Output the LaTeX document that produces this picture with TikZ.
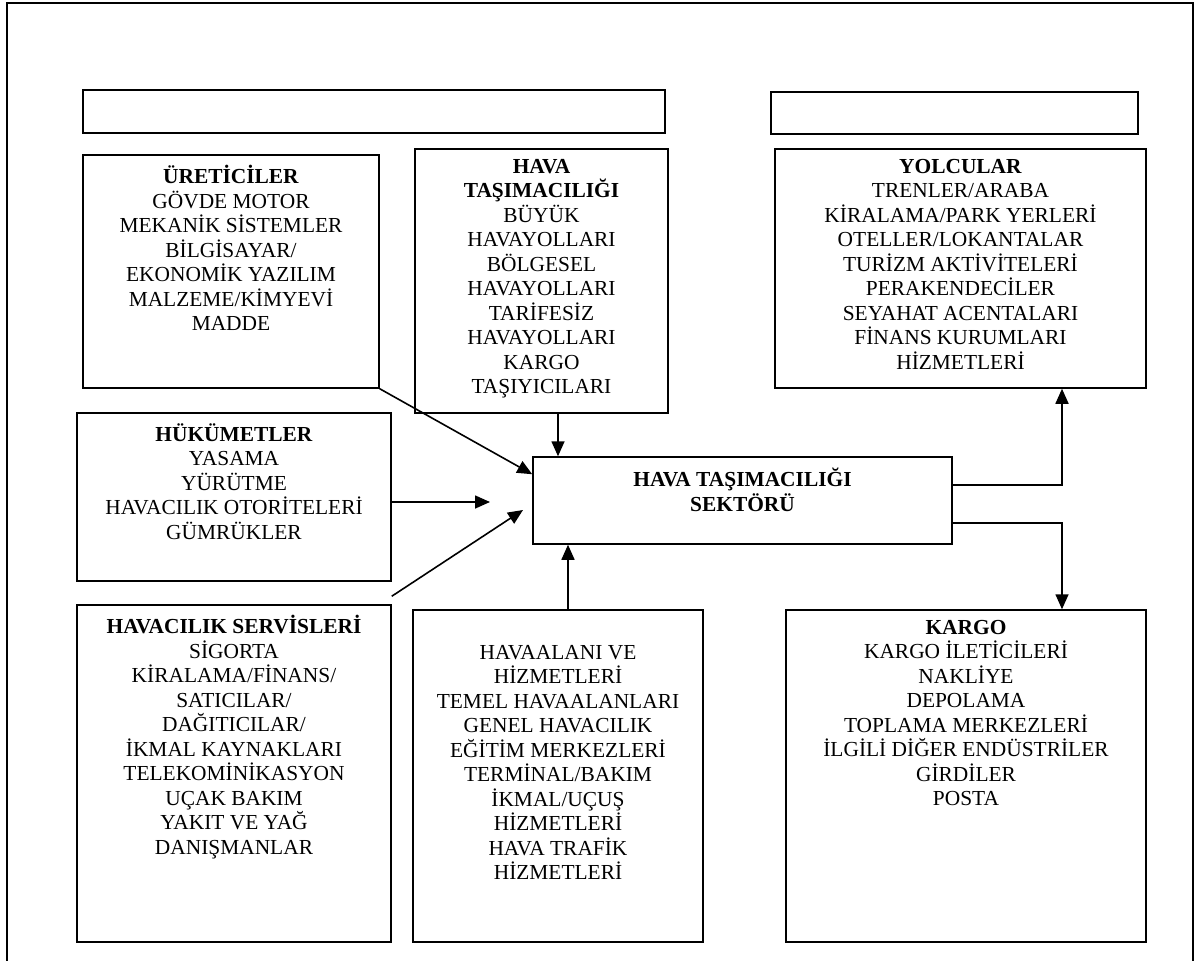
\documentclass[tikz,border=0pt]{standalone}
\usepackage{fontspec}
\setmainfont{Liberation Serif}
\usetikzlibrary{arrows.meta}
\usetikzlibrary{positioning}
\tikzset{>={Triangle[length=15pt,width=13pt]}}
\tikzset{
  kutu/.style={draw, line width=1.5pt, inner sep=0pt},
  yazi/.style={align=center, inner sep=0pt, outer sep=0pt, anchor=north,
    font=\fontsize{21.4pt}{24.5pt}\selectfont,
    execute at begin node={\rule{0pt}{19pt}}},
  ok/.style={->, line width=1.6pt}
}

\begin{document}
\begin{tikzpicture}[x=1pt,y=-1pt]
  \useasboundingbox (0,0) rectangle (1195,961);
  \draw[line width=1.6pt] (7,961) -- (7,3) -- (1193,3) -- (1193,961);

  \node[kutu, minimum width=582pt, minimum height=43pt] (ustsol) at (374,111.5) {};
  \node[kutu, minimum width=367pt, minimum height=42pt] (ustsag) at (954.5,113) {};

  \node[kutu, minimum width=296pt, minimum height=233pt] (uret) at (231,271.5) {};
  \node[kutu, minimum width=253pt, minimum height=264pt] (hava) at (541.5,281) {};
  \node[kutu, minimum width=314pt, minimum height=168pt] (hukum) at (234,497) {};
  \node[kutu, minimum width=314pt, minimum height=337pt] (servis) at (234,773.5) {};
  \node[kutu, minimum width=290pt, minimum height=332pt] (alan) at (558,776) {};
  \node[kutu, minimum width=371pt, minimum height=239pt] (yolcu) at (960.5,268.5) {};
  \node[kutu, minimum width=360pt, minimum height=332pt] (kargo) at (966,776) {};
  \node[kutu, minimum width=419pt, minimum height=87pt] (sektor) at (742.5,500.5) {};

  \node[yazi, below=11pt of uret.north] (uretY) {\textbf{ÜRETİCİLER}\\GÖVDE MOTOR\\MEKANİK SİSTEMLER\\BİLGİSAYAR/\\EKONOMİK YAZILIM\\MALZEME/KİMYEVİ\\MADDE};
  \node[yazi, below=11pt of hava.north] (havaY) {\textbf{HAVA}\\\textbf{TAŞIMACILIĞI}\\BÜYÜK\\HAVAYOLLARI\\BÖLGESEL\\HAVAYOLLARI\\TARİFESİZ\\HAVAYOLLARI\\KARGO\\TAŞIYICILARI};
  \node[yazi, below=11pt of hukum.north] (hukumY) {\textbf{HÜKÜMETLER}\\YASAMA\\YÜRÜTME\\HAVACILIK OTORİTELERİ\\GÜMRÜKLER};
  \node[yazi, below=11pt of servis.north] (servisY) {\textbf{HAVACILIK SERVİSLERİ}\\SİGORTA\\KİRALAMA/FİNANS/\\SATICILAR/\\DAĞITICILAR/\\İKMAL KAYNAKLARI\\TELEKOMİNİKASYON\\UÇAK BAKIM\\YAKIT VE YAĞ\\DANIŞMANLAR};
  \node[yazi, below=36pt of alan.north] (alanY) {HAVAALANI VE\\HİZMETLERİ\\TEMEL HAVAALANLARI\\GENEL HAVACILIK\\EĞİTİM MERKEZLERİ\\TERMİNAL/BAKIM\\İKMAL/UÇUŞ\\HİZMETLERİ\\HAVA TRAFİK\\HİZMETLERİ};
  \node[yazi, below=11pt of yolcu.north] (yolcuY) {\textbf{YOLCULAR}\\TRENLER/ARABA\\KİRALAMA/PARK YERLERİ\\OTELLER/LOKANTALAR\\TURİZM AKTİVİTELERİ\\PERAKENDECİLER\\SEYAHAT ACENTALARI\\FİNANS KURUMLARI\\HİZMETLERİ};
  \node[yazi, below=11pt of kargo.north] (kargoY) {\textbf{KARGO}\\KARGO İLETİCİLERİ\\NAKLİYE\\DEPOLAMA\\TOPLAMA MERKEZLERİ\\İLGİLİ DİĞER ENDÜSTRİLER\\GİRDİLER\\POSTA};
  \node[yazi, below=12pt of sektor.north] (sektorY) {\textbf{HAVA TAŞIMACILIĞI}\\\textbf{SEKTÖRÜ}};

  \coordinate (hukumUc) at (490,502);
  \coordinate (servisUc) at (523,510);

  \draw[ok] (uret.south east) -- ([yshift=-18pt]sektor.north west);
  \draw[ok] ([xshift=16.5pt]hava.south) -- ([xshift=16.5pt]hava.south |- sektor.north);
  \draw[ok] ([yshift=-5pt]hukum.east) -- (hukumUc);
  \draw[ok] ([yshift=8pt]servis.north east) -- (servisUc);
  \draw[ok] ([xshift=10pt]alan.north) -- ([xshift=10pt]alan.north |- sektor.south);
  \draw[ok] ([yshift=15.5pt]sektor.east) -| ([xshift=101.5pt]yolcu.south);
  \draw[ok] ([yshift=-22.5pt]sektor.east) -| ([xshift=96pt]kargo.north);
\end{tikzpicture}
\end{document}
